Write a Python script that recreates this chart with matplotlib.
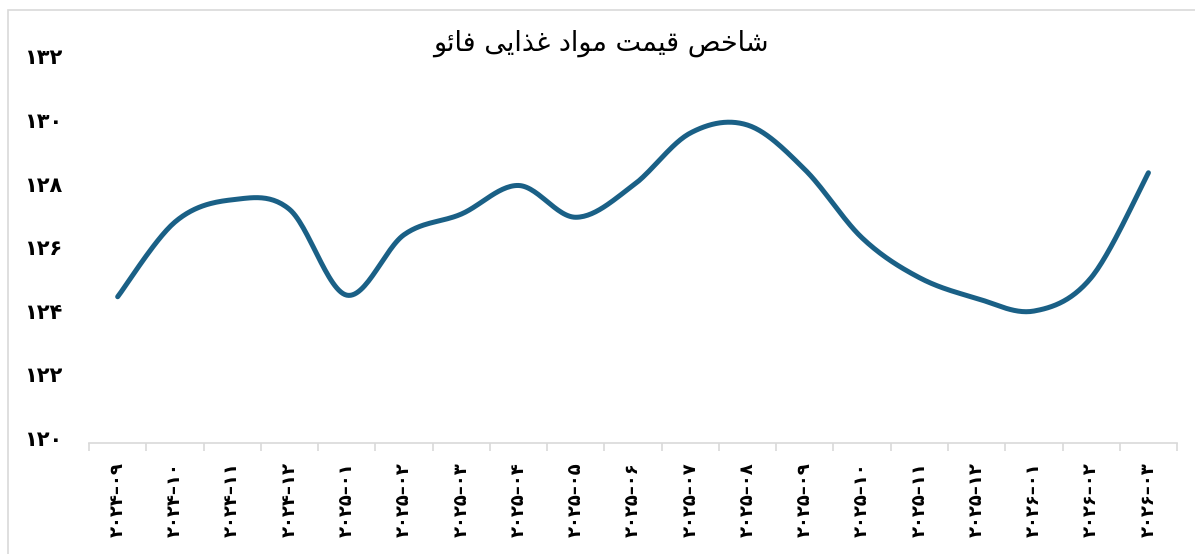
import numpy as np
import matplotlib.pyplot as plt
from matplotlib.patches import Rectangle
from matplotlib.transforms import ScaledTranslation

# داده‌ها
months = ['2024-09', '2024-10', '2024-11', '2024-12', '2025-01', '2025-02', '2025-03',
          '2025-04', '2025-05', '2025-06', '2025-07', '2025-08', '2025-09', '2025-10',
          '2025-11', '2025-12', '2026-01', '2026-02', '2026-03']
index_values = [124.6, 126.95, 127.65, 127.35, 124.65, 126.55, 127.2,
                128.1, 127.1, 128.1, 129.75, 130.0, 128.6, 126.45,
                125.2, 124.55, 124.15, 125.2, 128.5]
y_ticks = [120, 122, 124, 126, 128, 130, 132]
title = 'شاخص قیمت مواد غذایی فائو'

FA_DIGITS = str.maketrans('0123456789', '۰۱۲۳۴۵۶۷۸۹')

# جدول شکل‌های نمایشی: (تنها، پایانی، آغازی، میانی)
FORMS = {
    'ا': ('\uFE8D', '\uFE8E', None, None),
    'ت': ('\uFE95', '\uFE96', '\uFE97', '\uFE98'),
    'خ': ('\uFEA5', '\uFEA6', '\uFEA7', '\uFEA8'),
    'د': ('\uFEA9', '\uFEAA', None, None),
    'ذ': ('\uFEAB', '\uFEAC', None, None),
    'ش': ('\uFEB5', '\uFEB6', '\uFEB7', '\uFEB8'),
    'ص': ('\uFEB9', '\uFEBA', '\uFEBB', '\uFEBC'),
    'غ': ('\uFECD', '\uFECE', '\uFECF', '\uFED0'),
    'ف': ('\uFED1', '\uFED2', '\uFED3', '\uFED4'),
    'ق': ('\uFED5', '\uFED6', '\uFED7', '\uFED8'),
    'م': ('\uFEE1', '\uFEE2', '\uFEE3', '\uFEE4'),
    'و': ('\uFEED', '\uFEEE', None, None),
    'ی': ('\uFEEF', '\uFEF0', '\uFEF3', '\uFEF4'),
    'ئ': ('\uFE89', '\uFE8A', '\uFE8B', '\uFE8C'),
}


def shape(text):
    # شکل‌دهی ساده حروف و برگرداندن ترتیب برای نمایش راست به چپ
    out = []
    for i, ch in enumerate(text):
        if ch not in FORMS:
            out.append(ch)
            continue
        prev = text[i - 1] if i > 0 else ''
        nxt = text[i + 1] if i + 1 < len(text) else ''
        join_prev = prev in FORMS and FORMS[prev][2] is not None
        join_next = FORMS[ch][2] is not None and nxt in FORMS
        iso, fin, ini, med = FORMS[ch]
        if join_prev and join_next:
            out.append(med)
        elif join_prev:
            out.append(fin)
        elif join_next:
            out.append(ini)
        else:
            out.append(iso)
    return ''.join(out)[::-1]


plt.rcParams['font.family'] = ['DejaVu Sans']

fig = plt.figure(figsize=(11.95, 5.54), dpi=100)
ax = fig.add_axes([0.0745, 0.2004, 0.9105, 0.6886])

# خط هموار (Catmull-Rom) از روی نقاط
x = np.arange(len(index_values))
y = np.array(index_values)
px = np.concatenate([[x[0]], x, [x[-1]]])
py = np.concatenate([[y[0]], y, [y[-1]]])
t = np.linspace(0, 1, 30)
sx, sy = [], []
for k in range(1, len(px) - 2):
    for P, S in ((px, sx), (py, sy)):
        p0, p1, p2, p3 = P[k - 1], P[k], P[k + 1], P[k + 2]
        c1 = p1 + (p2 - p0) / 6
        c2 = p2 - (p3 - p1) / 6
        S.extend((1 - t) ** 3 * p1 + 3 * (1 - t) ** 2 * t * c1 + 3 * (1 - t) * t ** 2 * c2 + t ** 3 * p2)
ax.plot(sx, sy, color='#1A6086', lw=3.6, solid_capstyle='round')

ax.set_xlim(-0.5, len(months) - 0.5)
ax.set_ylim(120, 132)

ax.set_yticks(y_ticks)
ax.set_yticklabels([str(v).translate(FA_DIGITS) for v in y_ticks],
                   fontsize=15, fontweight='bold')
ax.tick_params(axis='y', length=0, pad=19)
up = ScaledTranslation(0, 5 / 100, fig.dpi_scale_trans)
for lab in ax.get_yticklabels():
    lab.set_transform(lab.get_transform() + up)

ax.set_xticks(x)
ax.set_xticklabels([m.translate(FA_DIGITS).replace('-', '–') for m in months], rotation=90,
                   fontsize=13, fontweight='bold', va='top')
ax.tick_params(axis='x', which='major', length=0, pad=14)
ax.set_xticks(np.arange(-0.5, len(months), 1), minor=True)
ax.tick_params(axis='x', which='minor', length=6, color='#D9D9D9', width=1.2)

for side in ['left', 'right', 'top']:
    ax.spines[side].set_visible(False)
ax.spines['bottom'].set_color('#D9D9D9')
ax.spines['bottom'].set_linewidth(1.2)

fig.text(0.503, 1 - 43 / 554, shape(title), ha='center', va='center', fontsize=19.5)

fig.patches.append(Rectangle((8 / 1195, -0.1), 1.2, 1 - 10 / 554 + 0.1,
                             transform=fig.transFigure, fill=False,
                             edgecolor='#D9D9D9', lw=1.2))

fig.savefig('out.png', dpi=100)
